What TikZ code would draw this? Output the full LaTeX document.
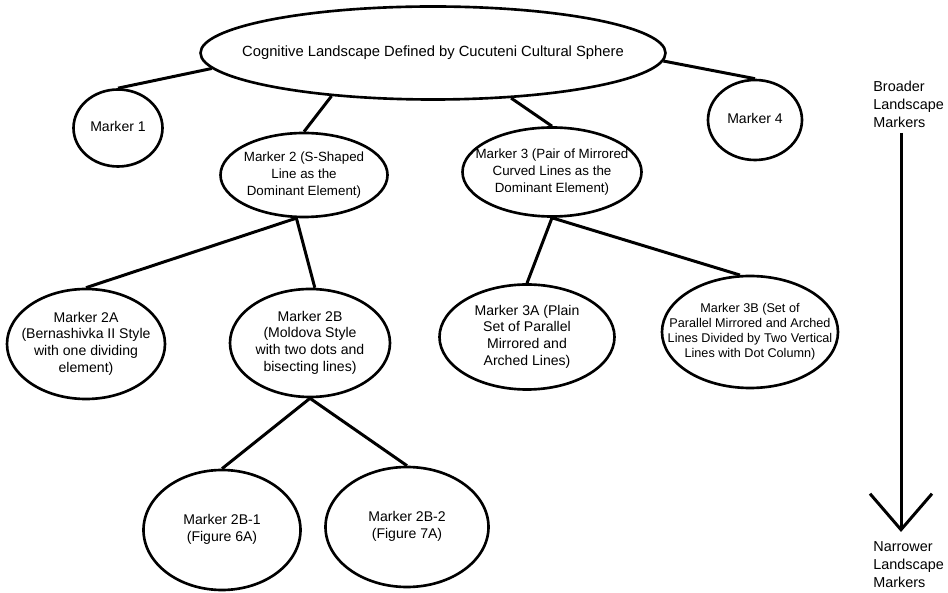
\documentclass[tikz,border=0pt]{standalone}
\usepackage{fontspec}
\setmainfont{Liberation Sans}
\usetikzlibrary{shapes.geometric,arrows.meta}
\newcommand{\mtext}[1]{\makebox[0pt]{\begin{tabular}{@{}c@{}}#1\end{tabular}}}

\begin{document}
\begin{tikzpicture}[x=0.2mm, y=-0.2mm,
                    mk/.style 2 args={ellipse, draw, line width=1.5pt, inner sep=0pt,
                                      minimum width=#1*0.2mm, minimum height=#2*0.2mm},
                    link/.style={line width=1.7pt},
                    every node/.style={font=\fontsize{8}{9.6}\selectfont}]
  \useasboundingbox (0,0) rectangle (948,593);
  % top: the whole sphere
  \node[mk={465}{93}, font=\fontsize{8.4}{10}\selectfont] (top) at (433,53)
       {\mtext{Cognitive Landscape Defined by Cucuteni Cultural Sphere}};
  % first level: markers 1-4
  \node[mk={89}{77}] (m1) at (118,128){\mtext{Marker 1}};
  \node[mk={94}{80}] (m4) at (755,120){\mtext{Marker 4}};
  \node[mk={167}{84}, font=\fontsize{7.6}{9.6}\selectfont] (m2) at (304,175)
       {\mtext{Marker 2 (S-Shaped\\Line as the\\Dominant Element)}};
  \node[mk={179}{89}, font=\fontsize{7.6}{9.6}\selectfont] (m3) at (552,172)
       {\mtext{Marker 3 (Pair of Mirrored\\Curved Lines as the\\Dominant Element)}};
  % second level
  \node[mk={158}{110}] (m2a) at (86,344)
       {\mtext{Marker 2A\\(Bernashivka II Style\\with one dividing\\element)}};
  \node[mk={160}{108}] (m2b) at (310,343)
       {\mtext{Marker 2B\\(Moldova Style\\with two dots and\\bisecting lines)}};
  \node[mk={175}{105}] (m3a) at (527,337)
       {\mtext{Marker 3A (Plain\\Set of Parallel\\Mirrored and\\Arched Lines)}};
  \node[mk={176}{112}, font=\fontsize{7.2}{8.6}\selectfont] (m3b) at (750,332)
       {\mtext{Marker 3B (Set of\\Parallel Mirrored and Arched\\Lines Divided by Two Vertical\\Lines with Dot Column)}};
  % third level
  \node[mk={157}{120}] (m2b1) at (222,530){\mtext{Marker 2B-1\\(Figure 6A)}};
  \node[mk={163}{120}] (m2b2) at (407,527){\mtext{Marker 2B-2\\(Figure 7A)}};
  % links
  \draw[link] (top.184) -- (m1.north);
  \draw[link] (top.-2)  -- (m4.north);
  \draw[link] (top.203) -- (m2.north);
  \draw[link] (top.-30) -- (m3.north);
  \draw[link] (m2.260) -- (m2a.north);
  \draw[link] (m2.260) -- (m2b.85);
  \draw[link] (m3.south) -- (m3a.north);
  \draw[link] (m3.south) -- (m3b.100);
  \draw[link] (m2b.south) -- (m2b1.north);
  \draw[link] (m2b.south) -- (m2b2.north);
  % scale arrow on the right
  \node[anchor=west, align=left, inner sep=0pt, font=\fontsize{8.2}{10.2}\selectfont] (broad) at (873,104)
       {Broader\\Landscape\\Markers};
  \node[anchor=west, align=left, inner sep=0pt, font=\fontsize{8.2}{10.2}\selectfont] (narrow) at (873,565)
       {Narrower\\Landscape\\Markers};
  \coordinate (atop) at (901,133);
  \coordinate (abot) at (901,532);
  \draw[line width=1.7pt, -{Straight Barb[length=7.2mm, width=12.4mm]}] (atop) -- (abot);
\end{tikzpicture}
\end{document}
